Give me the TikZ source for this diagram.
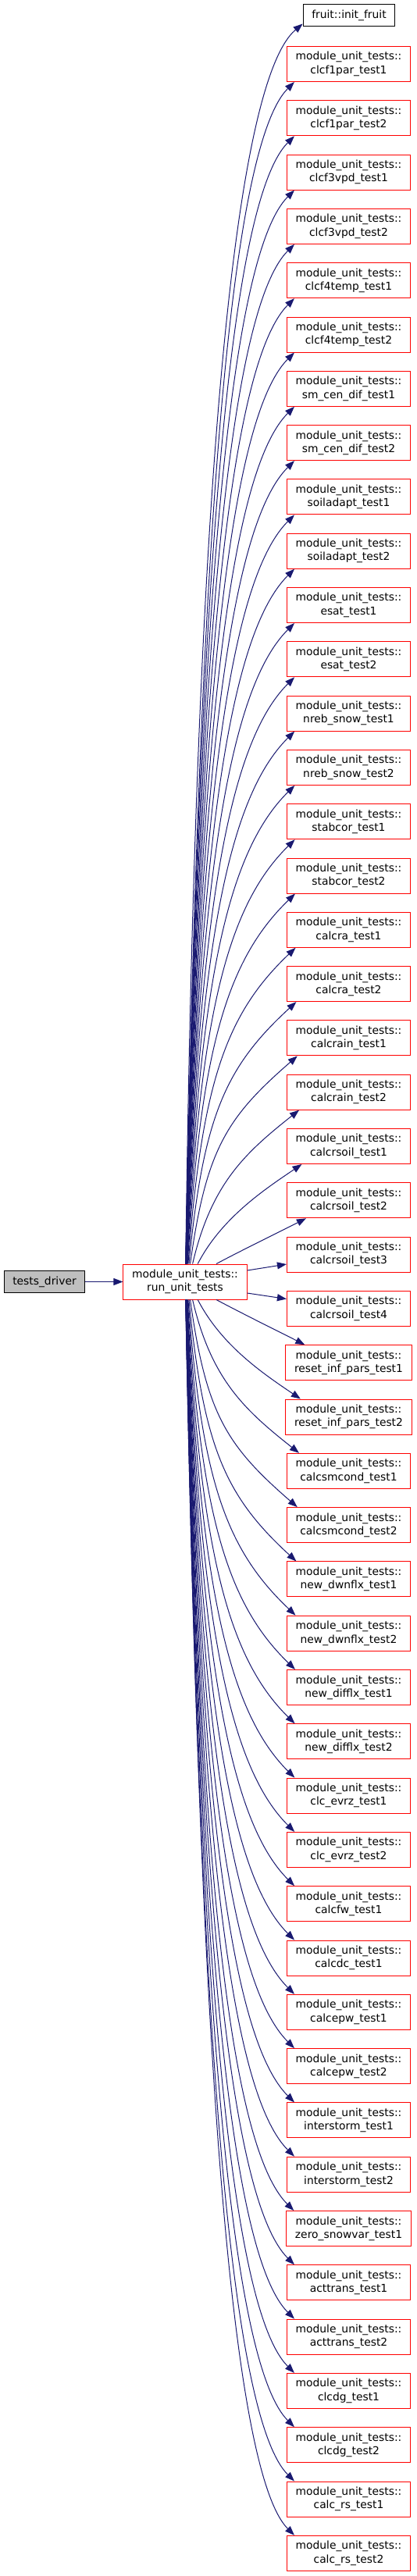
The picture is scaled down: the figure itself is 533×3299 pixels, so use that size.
\documentclass[tikz,border=0pt]{standalone}
\usepackage{fontspec}
\setmainfont{DejaVu Sans}
\usetikzlibrary{arrows.meta}
\definecolor{callblue}{HTML}{191970}
\definecolor{rootgray}{HTML}{BFBFBF}
\begin{document}
\begin{tikzpicture}[x=1pt, y=1pt,
        >={Triangle[length=12pt, width=9pt]},
        fn/.style={draw, line width=1pt, inner xsep=11.2pt, inner ysep=0pt, align=center,
            font=\fontsize{13.85}{17.3}\selectfont},
        single/.style={fn, minimum height=28pt},
        trunc/.style={fn, draw=red, minimum height=45pt},
        call/.style={->, draw=callblue, line width=1pt}]
    \useasboundingbox (0,0) rectangle (533,-3299);
    % ── nodos ──────────────────────────
    \node[single, fill=rootgray] (driver) at (57,-1641.5) {tests\_driver};
    \node[trunc] (run) at (237,-1641.5) {module\_unit\_tests::\\run\_unit\_tests};
    \node[single] (init) at (447,-20) {fruit::init\_fruit};
    \foreach \nm [count=\i from 0] in {clcf1par\_test1, clcf1par\_test2, clcf3vpd\_test1, clcf3vpd\_test2,
            clcf4temp\_test1, clcf4temp\_test2, sm\_cen\_dif\_test1, sm\_cen\_dif\_test2,
            soiladapt\_test1, soiladapt\_test2, esat\_test1, esat\_test2, nreb\_snow\_test1,
            nreb\_snow\_test2, stabcor\_test1, stabcor\_test2, calcra\_test1, calcra\_test2,
            calcrain\_test1, calcrain\_test2, calcrsoil\_test1, calcrsoil\_test2, calcrsoil\_test3,
            calcrsoil\_test4, reset\_inf\_pars\_test1, reset\_inf\_pars\_test2, calcsmcond\_test1,
            calcsmcond\_test2, new\_dwnflx\_test1, new\_dwnflx\_test2, new\_difflx\_test1,
            new\_difflx\_test2, clc\_evrz\_test1, clc\_evrz\_test2, calcfw\_test1, calcdc\_test1,
            calcepw\_test1, calcepw\_test2, interstorm\_test1, interstorm\_test2,
            zero\_snowvar\_test1, acttrans\_test1, acttrans\_test2, clcdg\_test1, clcdg\_test2,
            calc\_rs\_test1, calc\_rs\_test2}
        \node[trunc] (ut\i) at (446.5,{-82-69.3*\i}) {module\_unit\_tests::\\\nm};
    % ── llamadas ──────────────────────────
    \draw[call] (driver) -- (run);
    \draw[call] ([yshift=14.5pt]run.east) -- ([yshift=-12.4pt]ut22.west);
    \draw[call] ([yshift=-14.5pt]run.east) -- ([yshift=12.4pt]ut23.west);
    \foreach \k in {2,...,23}{
        \pgfmathtruncatemacro\up{23-\k}
        \pgfmathtruncatemacro\dn{22+\k}
        \pgfmathsetmacro\D{69.3*\k-79.4}
        \pgfmathsetmacro\xs{40/(\k-1)^1.3}
        \pgfmathsetmacro\xe{10+15*exp(-(\k-2)/2.2)}
        \pgfmathsetmacro\ax{(130+\xe-\xs)*(0.12+0.21*exp(-(\k-2)/1.5))}
        \pgfmathsetmacro\by{\D*(0.58-0.24*exp(-(\k-2)/1.5))}
        \pgfmathsetmacro\th{45-18*exp(-(\k-2)/2)}
        \pgfmathsetmacro\L{min(123,0.45*\D)}
        \draw[call] ([xshift=\xs pt]run.north) .. controls +(\ax,\by)
            and +({-\L*cos(\th)},{-\L*sin(\th)}) .. ([xshift=\xe pt]ut\up.south west);
        \draw[call] ([xshift=\xs pt]run.south) .. controls +(\ax,-\by)
            and +({-\L*cos(\th)},{\L*sin(\th)}) .. ([xshift=\xe pt]ut\dn.north west);
    }
    \draw[call] ([xshift=0.7pt]run.north) .. controls +(12,922) and +(-94,-79) .. ([yshift=4pt]init.south west);
    \draw[call] ([xshift=0.7pt]run.south) .. controls +(17,-880) and +(-87,87) .. ([xshift=10pt]ut46.north west);
\end{tikzpicture}
\end{document}
